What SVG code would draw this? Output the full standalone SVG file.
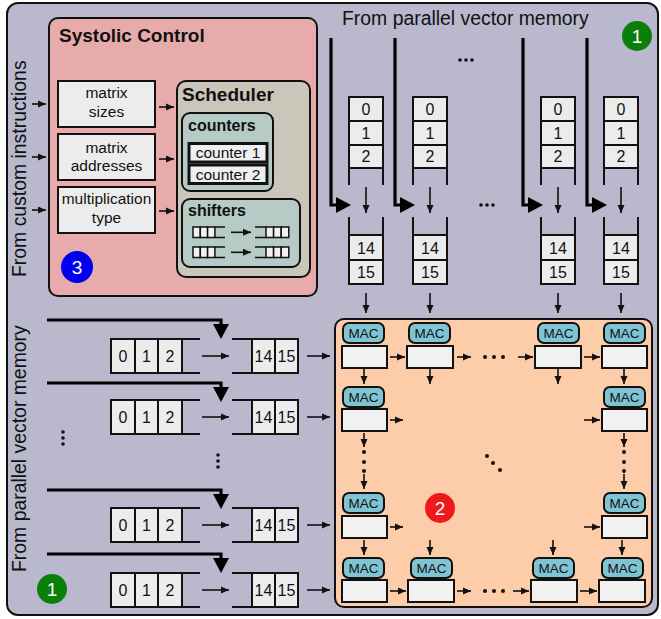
<svg xmlns="http://www.w3.org/2000/svg" width="661" height="619" viewBox="0 0 661 619">
<style>
text{font-family:"Liberation Sans",Arial,sans-serif;fill:#111}
.b{font-weight:bold}
.c{text-anchor:middle}
.cell{fill:#ececec;stroke:#111;stroke-width:2}
.ln{stroke:#111;stroke-width:2;fill:none}
.ar{stroke:#111;stroke-width:1.6;fill:none;marker-end:url(#ah)}
.thick{stroke:#000;stroke-width:3.2;fill:none}
.mac{fill:#80c4d3;stroke:#111;stroke-width:2}
.pe{fill:#f1f1f1;stroke:#111;stroke-width:2}
.dg{font-size:16px}
.mt{font-size:13.5px}
.dot{fill:#111}
</style>
<defs>
<marker id="ah" markerWidth="8" markerHeight="8" refX="8" refY="4" orient="auto" markerUnits="userSpaceOnUse"><path d="M0,0.5 L8,4 L0,7.5 z" fill="#111"/></marker>
</defs>
<rect x="7" y="3" width="651" height="612" rx="11" fill="#b9b8cc" stroke="#111" stroke-width="2"/>

<g id="systolic-control">
<rect x="49" y="18" width="268" height="278" rx="9" fill="#e8abab" stroke="#111" stroke-width="2"/>
<text x="59" y="42" class="b" font-size="19">Systolic Control</text>
</g>
<g id="matrix-sizes">
<rect x="58" y="81" width="97" height="46" class="cell"/>
<text x="106.5" y="98" class="c" font-size="15.5">matrix</text>
<text x="106.5" y="117" class="c" font-size="15.5">sizes</text>
</g>
<g id="matrix-addresses">
<rect x="58" y="134" width="97" height="46" class="cell"/>
<text x="106.5" y="153" class="c" font-size="15.5">matrix</text>
<text x="106.5" y="171" class="c" font-size="15.5">addresses</text>
</g>
<g id="multiplication-type">
<rect x="58" y="187" width="97" height="46" class="cell"/>
<text x="106.5" y="204" class="c" font-size="15.5">multiplication</text>
<text x="106.5" y="223" class="c" font-size="15.5">type</text>
</g>
<g id="scheduler">
<rect x="177" y="81" width="133" height="196" rx="9" fill="#cbc6ba" stroke="#111" stroke-width="2"/>
<text x="182" y="101" class="b" font-size="19">Scheduler</text>
</g>
<g id="counters">
<rect x="182" y="113" width="91" height="78" rx="8" fill="#b6cac6" stroke="#111" stroke-width="2"/>
<text x="188" y="131" class="b" font-size="16">counters</text>
<rect x="189" y="143.5" width="78" height="18.5" fill="#efefef" stroke="#111" stroke-width="3"/>
<text x="228" y="158" class="c" font-size="15.5">counter 1</text>
<rect x="189" y="165" width="78" height="18.5" fill="#efefef" stroke="#111" stroke-width="3"/>
<text x="228" y="179.5" class="c" font-size="15.5">counter 2</text>
</g>
<g id="shifters">
<rect x="182" y="199" width="118" height="68" rx="8" fill="#b6cac6" stroke="#111" stroke-width="2"/>
<text x="188" y="216" class="b" font-size="16">shifters</text>
<g stroke="#111" stroke-width="1.5" fill="#f1f1f1">
<rect x="193" y="227" width="7.3" height="10.5"/><rect x="200.3" y="227" width="7.3" height="10.5"/><rect x="207.6" y="227" width="7.3" height="10.5"/>
<path d="M215,227 H225 M215,237.5 H225" fill="none"/>
<path d="M255,227 H266 M255,237.5 H266" fill="none"/>
<rect x="266" y="227" width="7.6" height="10.5"/><rect x="273.6" y="227" width="7.6" height="10.5"/><rect x="281.2" y="227" width="7.6" height="10.5"/>
<rect x="193" y="247" width="7.3" height="10.5"/><rect x="200.3" y="247" width="7.3" height="10.5"/><rect x="207.6" y="247" width="7.3" height="10.5"/>
<path d="M215,247 H225 M215,257.5 H225" fill="none"/>
<path d="M255,247 H266 M255,257.5 H266" fill="none"/>
<rect x="266" y="247" width="7.6" height="10.5"/><rect x="273.6" y="247" width="7.6" height="10.5"/><rect x="281.2" y="247" width="7.6" height="10.5"/>
</g>
<line x1="231" y1="232.3" x2="251" y2="232.3" class="ar" stroke-width="1.3"/>
<line x1="231" y1="252.3" x2="251" y2="252.3" class="ar" stroke-width="1.3"/>
</g>
<g id="badge-3">
<circle cx="77" cy="267" r="16" fill="#0000f0"/>
<text x="77" y="274" class="c" font-size="19" style="fill:#fff">3</text>
</g>

<text transform="translate(26,277) rotate(-90)" font-size="19.4">From custom instructions</text>
<text x="342" y="25" font-size="19.4">From parallel vector memory</text>
<text transform="translate(26,572) rotate(-90)" font-size="19.4">From parallel vector memory</text>

<g id="badge-1-top">
<circle cx="637" cy="36" r="15" fill="#0a7f0a"/>
<text x="637" y="43" class="c" font-size="19" style="fill:#fff">1</text>
</g>
<g id="badge-1-bottom">
<circle cx="52" cy="589" r="15" fill="#0a7f0a"/>
<text x="52" y="596" class="c" font-size="19" style="fill:#fff">1</text>
</g>

<g id="col-fifo-1">
<rect x="349" y="97" width="34" height="24" class="cell"/><rect x="349" y="121" width="34" height="24" class="cell"/><rect x="349" y="145" width="34" height="23" class="cell"/>
<path d="M349,168 V185 M383,168 V185 M349,217 V235 M383,217 V235" class="ln"/>
<rect x="349" y="235" width="34" height="25" class="cell"/><rect x="349" y="260" width="34" height="24" class="cell"/>
<text x="366" y="114.5" class="c dg">0</text><text x="366" y="138.5" class="c dg">1</text><text x="366" y="162" class="c dg">2</text>
<text x="366" y="253.5" class="c dg">14</text><text x="366" y="278" class="c dg">15</text>
</g>
<g id="col-fifo-2">
<rect x="413" y="97" width="34" height="24" class="cell"/><rect x="413" y="121" width="34" height="24" class="cell"/><rect x="413" y="145" width="34" height="23" class="cell"/>
<path d="M413,168 V185 M447,168 V185 M413,217 V235 M447,217 V235" class="ln"/>
<rect x="413" y="235" width="34" height="25" class="cell"/><rect x="413" y="260" width="34" height="24" class="cell"/>
<text x="430" y="114.5" class="c dg">0</text><text x="430" y="138.5" class="c dg">1</text><text x="430" y="162" class="c dg">2</text>
<text x="430" y="253.5" class="c dg">14</text><text x="430" y="278" class="c dg">15</text>
</g>
<g id="col-fifo-3">
<rect x="541" y="97" width="34" height="24" class="cell"/><rect x="541" y="121" width="34" height="24" class="cell"/><rect x="541" y="145" width="34" height="23" class="cell"/>
<path d="M541,168 V185 M575,168 V185 M541,217 V235 M575,217 V235" class="ln"/>
<rect x="541" y="235" width="34" height="25" class="cell"/><rect x="541" y="260" width="34" height="24" class="cell"/>
<text x="558" y="114.5" class="c dg">0</text><text x="558" y="138.5" class="c dg">1</text><text x="558" y="162" class="c dg">2</text>
<text x="558" y="253.5" class="c dg">14</text><text x="558" y="278" class="c dg">15</text>
</g>
<g id="col-fifo-4">
<rect x="604" y="97" width="34" height="24" class="cell"/><rect x="604" y="121" width="34" height="24" class="cell"/><rect x="604" y="145" width="34" height="23" class="cell"/>
<path d="M604,168 V185 M638,168 V185 M604,217 V235 M638,217 V235" class="ln"/>
<rect x="604" y="235" width="34" height="25" class="cell"/><rect x="604" y="260" width="34" height="24" class="cell"/>
<text x="621" y="114.5" class="c dg">0</text><text x="621" y="138.5" class="c dg">1</text><text x="621" y="162" class="c dg">2</text>
<text x="621" y="253.5" class="c dg">14</text><text x="621" y="278" class="c dg">15</text>
</g>

<g id="row-fifo-1">
<rect x="111" y="339" width="24" height="34" class="cell"/><rect x="135" y="339" width="23" height="34" class="cell"/><rect x="158" y="339" width="24" height="34" class="cell"/>
<path d="M182,339 H200 M182,373 H200 M232,339 H252 M232,373 H252" class="ln"/>
<rect x="252" y="339" width="23" height="34" class="cell"/><rect x="275" y="339" width="23" height="34" class="cell"/>
<text x="123" y="362" class="c dg">0</text><text x="146.5" y="362" class="c dg">1</text><text x="170" y="362" class="c dg">2</text>
<text x="263.5" y="362" class="c dg">14</text><text x="286.5" y="362" class="c dg">15</text>
</g>
<g id="row-fifo-2">
<rect x="111" y="400" width="24" height="34" class="cell"/><rect x="135" y="400" width="23" height="34" class="cell"/><rect x="158" y="400" width="24" height="34" class="cell"/>
<path d="M182,400 H200 M182,434 H200 M232,400 H252 M232,434 H252" class="ln"/>
<rect x="252" y="400" width="23" height="34" class="cell"/><rect x="275" y="400" width="23" height="34" class="cell"/>
<text x="123" y="423" class="c dg">0</text><text x="146.5" y="423" class="c dg">1</text><text x="170" y="423" class="c dg">2</text>
<text x="263.5" y="423" class="c dg">14</text><text x="286.5" y="423" class="c dg">15</text>
</g>
<g id="row-fifo-3">
<rect x="111" y="508" width="24" height="34" class="cell"/><rect x="135" y="508" width="23" height="34" class="cell"/><rect x="158" y="508" width="24" height="34" class="cell"/>
<path d="M182,508 H200 M182,542 H200 M232,508 H252 M232,542 H252" class="ln"/>
<rect x="252" y="508" width="23" height="34" class="cell"/><rect x="275" y="508" width="23" height="34" class="cell"/>
<text x="123" y="531" class="c dg">0</text><text x="146.5" y="531" class="c dg">1</text><text x="170" y="531" class="c dg">2</text>
<text x="263.5" y="531" class="c dg">14</text><text x="286.5" y="531" class="c dg">15</text>
</g>
<g id="row-fifo-4">
<rect x="111" y="573" width="24" height="34" class="cell"/><rect x="135" y="573" width="23" height="34" class="cell"/><rect x="158" y="573" width="24" height="34" class="cell"/>
<path d="M182,573 H200 M182,607 H200 M232,573 H252 M232,607 H252" class="ln"/>
<rect x="252" y="573" width="23" height="34" class="cell"/><rect x="275" y="573" width="23" height="34" class="cell"/>
<text x="123" y="596" class="c dg">0</text><text x="146.5" y="596" class="c dg">1</text><text x="170" y="596" class="c dg">2</text>
<text x="263.5" y="596" class="c dg">14</text><text x="286.5" y="596" class="c dg">15</text>
</g>

<g id="systolic-array">
<rect x="335" y="319" width="317" height="288" rx="9" fill="#fdcca9" stroke="#111" stroke-width="2"/>
</g>
<g id="badge-2">
<circle cx="440" cy="508" r="15" fill="#ee1a1a"/>
<text x="440" y="515" class="c" font-size="19" style="fill:#fff">2</text>
</g>
<g id="pe-1-1"><rect x="343" y="323" width="41" height="20" rx="6" class="mac"/><text x="363.5" y="338" class="c mt">MAC</text><rect x="342" y="346" width="45" height="22" class="pe"/></g>
<g id="pe-1-2"><rect x="409" y="323" width="41" height="20" rx="6" class="mac"/><text x="429.5" y="338" class="c mt">MAC</text><rect x="407" y="346" width="46" height="22" class="pe"/></g>
<g id="pe-1-3"><rect x="538" y="323" width="41" height="20" rx="6" class="mac"/><text x="558.5" y="338" class="c mt">MAC</text><rect x="535" y="346" width="46" height="22" class="pe"/></g>
<g id="pe-1-4"><rect x="604" y="323" width="41" height="20" rx="6" class="mac"/><text x="624.5" y="338" class="c mt">MAC</text><rect x="602" y="346" width="45" height="22" class="pe"/></g>
<g id="pe-2-1"><rect x="343" y="387" width="41" height="20" rx="6" class="mac"/><text x="363.5" y="402" class="c mt">MAC</text><rect x="342" y="409" width="45" height="22" class="pe"/></g>
<g id="pe-2-4"><rect x="604" y="387" width="41" height="20" rx="6" class="mac"/><text x="624.5" y="402" class="c mt">MAC</text><rect x="602" y="409" width="45" height="22" class="pe"/></g>
<g id="pe-3-1"><rect x="343" y="493" width="41" height="20" rx="6" class="mac"/><text x="363.5" y="508" class="c mt">MAC</text><rect x="342" y="516" width="45" height="22" class="pe"/></g>
<g id="pe-3-4"><rect x="604" y="493" width="41" height="20" rx="6" class="mac"/><text x="624.5" y="508" class="c mt">MAC</text><rect x="602" y="516" width="45" height="22" class="pe"/></g>
<g id="pe-4-1"><rect x="343" y="558" width="41" height="20" rx="6" class="mac"/><text x="363.5" y="573" class="c mt">MAC</text><rect x="342" y="580" width="45" height="22" class="pe"/></g>
<g id="pe-4-2"><rect x="411" y="558" width="41" height="20" rx="6" class="mac"/><text x="431.5" y="573" class="c mt">MAC</text><rect x="408" y="580" width="46" height="22" class="pe"/></g>
<g id="pe-4-3"><rect x="533" y="558" width="41" height="20" rx="6" class="mac"/><text x="553.5" y="573" class="c mt">MAC</text><rect x="531" y="580" width="46" height="22" class="pe"/></g>
<g id="pe-4-4"><rect x="602" y="558" width="41" height="20" rx="6" class="mac"/><text x="622.5" y="573" class="c mt">MAC</text><rect x="599" y="580" width="46" height="22" class="pe"/></g>

<g id="ellipses" class="dot">
<circle cx="460" cy="60" r="1.8"/><circle cx="466" cy="60" r="1.8"/><circle cx="472" cy="60" r="1.8"/>
<circle cx="481" cy="205" r="1.8"/><circle cx="487" cy="205" r="1.8"/><circle cx="493" cy="205" r="1.8"/>
<circle cx="63" cy="432" r="1.8"/><circle cx="63" cy="438" r="1.8"/><circle cx="63" cy="444" r="1.8"/>
<circle cx="218" cy="455" r="1.8"/><circle cx="218" cy="461" r="1.8"/><circle cx="218" cy="467" r="1.8"/>
<circle cx="485" cy="357" r="2"/><circle cx="494" cy="357" r="2"/><circle cx="503" cy="357" r="2"/>
<circle cx="485" cy="591" r="2"/><circle cx="494" cy="591" r="2"/><circle cx="503" cy="591" r="2"/>
<circle cx="364" cy="452" r="2"/><circle cx="364" cy="462" r="2"/><circle cx="364" cy="471" r="2"/>
<circle cx="624" cy="452" r="2"/><circle cx="624" cy="462" r="2"/><circle cx="624" cy="471" r="2"/>
<circle cx="487" cy="456" r="2"/><circle cx="493" cy="463" r="2"/><circle cx="500" cy="470" r="2"/>
</g>

<g id="connectors">
<line x1="32" y1="104" x2="46" y2="104" class="ar"/>
<line x1="32" y1="157" x2="46" y2="157" class="ar"/>
<line x1="32" y1="210" x2="46" y2="210" class="ar"/>
<line x1="159" y1="107" x2="174" y2="107" class="ar"/>
<line x1="159" y1="159" x2="174" y2="159" class="ar"/>
<line x1="159" y1="211" x2="174" y2="211" class="ar"/>
<path d="M331,38 V205 H337" class="thick"/><polygon points="336,197 336,213 351,205" fill="#000"/>
<path d="M395,38 V205 H401" class="thick"/><polygon points="400,197 400,213 415,205" fill="#000"/>
<path d="M523,38 V205 H529" class="thick"/><polygon points="528,197 528,213 543,205" fill="#000"/>
<path d="M587,38 V205 H593" class="thick"/><polygon points="592,197 592,213 607,205" fill="#000"/>
<path d="M47,320 H221 V326" class="thick"/><polygon points="213,324 229,324 221,339" fill="#000"/>
<path d="M47,383 H221 V389" class="thick"/><polygon points="213,387 229,387 221,402" fill="#000"/>
<path d="M47,490 H221 V496" class="thick"/><polygon points="213,494 229,494 221,509" fill="#000"/>
<path d="M47,554 H221 V560" class="thick"/><polygon points="213,558 229,558 221,573" fill="#000"/>
<line x1="366" y1="187" x2="366" y2="213" class="ar"/>
<line x1="430" y1="187" x2="430" y2="213" class="ar"/>
<line x1="558" y1="187" x2="558" y2="213" class="ar"/>
<line x1="621" y1="187" x2="621" y2="213" class="ar"/>
<line x1="202" y1="356" x2="229" y2="356" class="ar"/>
<line x1="202" y1="417" x2="229" y2="417" class="ar"/>
<line x1="202" y1="525" x2="229" y2="525" class="ar"/>
<line x1="202" y1="590" x2="229" y2="590" class="ar"/>
<line x1="366" y1="293" x2="366" y2="313" class="ar"/>
<line x1="430" y1="293" x2="430" y2="313" class="ar"/>
<line x1="558" y1="293" x2="558" y2="313" class="ar"/>
<line x1="621" y1="293" x2="621" y2="313" class="ar"/>
<line x1="307" y1="356" x2="330" y2="356" class="ar"/>
<line x1="307" y1="417" x2="330" y2="417" class="ar"/>
<line x1="307" y1="525" x2="330" y2="525" class="ar"/>
<line x1="307" y1="590" x2="330" y2="590" class="ar"/>
<line x1="390" y1="357" x2="405" y2="357" class="ar"/>
<line x1="457" y1="357" x2="471" y2="357" class="ar"/>
<line x1="518" y1="357" x2="533" y2="357" class="ar"/>
<line x1="584" y1="357" x2="600" y2="357" class="ar"/>
<line x1="390" y1="420" x2="403" y2="420" class="ar"/>
<line x1="584" y1="420" x2="600" y2="420" class="ar"/>
<line x1="390" y1="527" x2="403" y2="527" class="ar"/>
<line x1="584" y1="527" x2="600" y2="527" class="ar"/>
<line x1="390" y1="591" x2="406" y2="591" class="ar"/>
<line x1="457" y1="591" x2="471" y2="591" class="ar"/>
<line x1="513" y1="591" x2="529" y2="591" class="ar"/>
<line x1="580" y1="591" x2="597" y2="591" class="ar"/>
<line x1="364" y1="369" x2="364" y2="384" class="ar"/>
<line x1="430" y1="369" x2="430" y2="384" class="ar"/>
<line x1="558" y1="369" x2="558" y2="384" class="ar"/>
<line x1="624" y1="369" x2="624" y2="384" class="ar"/>
<line x1="364" y1="433" x2="364" y2="447" class="ar"/>
<line x1="364" y1="474" x2="364" y2="489" class="ar"/>
<line x1="624" y1="433" x2="624" y2="447" class="ar"/>
<line x1="624" y1="474" x2="624" y2="489" class="ar"/>
<line x1="364" y1="540" x2="364" y2="555" class="ar"/>
<line x1="430" y1="540" x2="430" y2="555" class="ar"/>
<line x1="553" y1="540" x2="553" y2="555" class="ar"/>
<line x1="622" y1="540" x2="622" y2="555" class="ar"/>
</g>
</svg>
